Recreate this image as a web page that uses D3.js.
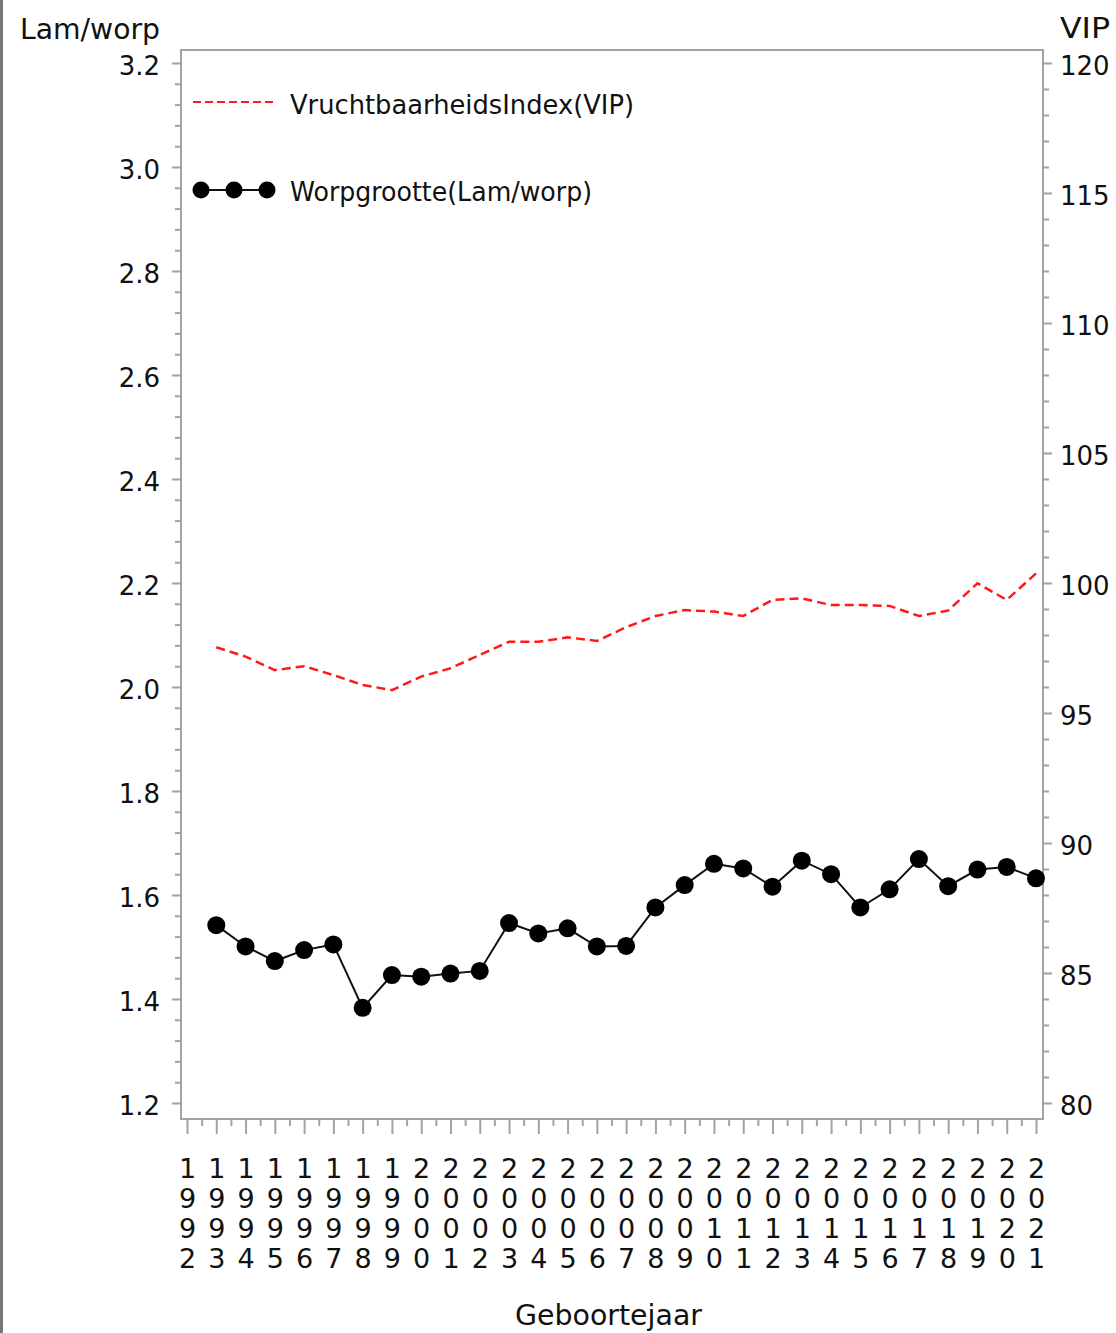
<!DOCTYPE html>
<html>
<head>
<meta charset="utf-8">
<script src="https://cdn.jsdelivr.net/npm/d3@7"></script>
<style>
body { margin: 0; background: #fff; }
#chart { width: 1116px; height: 1333px; }
text { font-family: "DejaVu Sans", sans-serif; fill: #111; }
</style>
</head>
<body>
<div id="chart"></div>
<script>
// tick labels on the x axis (birth years)
var tickYears = [1992, 1993, 1994, 1995, 1996, 1997, 1998, 1999, 2000, 2001,
    2002, 2003, 2004, 2005, 2006, 2007, 2008, 2009, 2010, 2011,
    2012, 2013, 2014, 2015, 2016, 2017, 2018, 2019, 2020, 2021];
// years that have data
var years = [1993, 1994, 1995, 1996, 1997, 1998, 1999, 2000, 2001, 2002,
    2003, 2004, 2005, 2006, 2007, 2008, 2009, 2010, 2011, 2012,
    2013, 2014, 2015, 2016, 2017, 2018, 2019, 2020, 2021];
// lammeren per worp (left axis)
var worpgrootte = [1.542, 1.501, 1.473, 1.494, 1.505, 1.383, 1.446, 1.443, 1.449, 1.454,
    1.546, 1.526, 1.536, 1.501, 1.502, 1.576, 1.619, 1.660, 1.651, 1.616,
    1.666, 1.640, 1.576, 1.611, 1.669, 1.617, 1.649, 1.654, 1.632];
// vruchtbaarheidsindex (right axis)
var vip = [97.53, 97.17, 96.65, 96.80, 96.46, 96.08, 95.88, 96.40, 96.72, 97.23,
    97.74, 97.74, 97.91, 97.77, 98.30, 98.73, 98.96, 98.90, 98.73, 99.35,
    99.41, 99.15, 99.15, 99.12, 98.73, 98.94, 99.99, 99.35, 100.37];
var leftTicks = [1.2, 1.4, 1.6, 1.8, 2.0, 2.2, 2.4, 2.6, 2.8, 3.0, 3.2];
var rightTicks = [80, 85, 90, 95, 100, 105, 110, 115, 120];
var legendLabels = ['VruchtbaarheidsIndex(VIP)', 'Worpgrootte(Lam/worp)'];

var frame = { left: 181, top: 50, right: 1043, bottom: 1119 };
var gray = '#a3a3a3';

var init = function (selector) {
    var svg = d3.select(selector).append('svg')
        .attr('width', 1116)
        .attr('height', 1333);

    var x = d3.scaleLinear().domain([1992, 2021]).range([187, 1036]);
    var yL = d3.scaleLinear().domain([1.2, 3.2]).range([1103, 63]);
    var yR = d3.scaleLinear().domain([80, 120]).range([1103, 63]);

    // page border on the far left
    svg.append('line')
        .attr('x1', 1.5).attr('x2', 1.5)
        .attr('y1', 0).attr('y2', 1333)
        .style('stroke', '#777')
        .style('stroke-width', 3);

    svg.append('rect')
        .attr('x', frame.left)
        .attr('y', frame.top)
        .attr('width', frame.right - frame.left)
        .attr('height', frame.bottom - frame.top)
        .style('fill', 'none')
        .style('stroke', gray)
        .style('stroke-width', 2);

    var styleAxis = function (g) {
        g.select('.domain').remove();
        g.selectAll('.tick line').style('stroke', gray).style('stroke-width', 2);
        g.selectAll('.tick text').style('font-size', '26px').attr('fill', '#111');
    };

    var leftMinor = d3.range(1.2, 3.2001, 0.04).filter(function (v) {
        return Math.abs(v * 5 - Math.round(v * 5)) > 0.01;
    });
    var rightMinor = d3.range(80, 121, 1).filter(function (v) { return v % 5 !== 0; });
    var xMinor = tickYears.slice(0, -1).map(function (d) { return d + 0.5; });

    // left axis
    svg.append('g')
        .attr('transform', 'translate(' + frame.left + ',0)')
        .call(d3.axisLeft(yL).tickValues(leftMinor).tickSize(6).tickFormat(''))
        .call(styleAxis);
    svg.append('g')
        .attr('transform', 'translate(' + frame.left + ',0)')
        .call(d3.axisLeft(yL).tickValues(leftTicks).tickSize(9).tickPadding(12)
            .tickFormat(d3.format('.1f')))
        .call(styleAxis)
        .selectAll('.tick text').attr('dy', '0.44em');

    // right axis
    svg.append('g')
        .attr('transform', 'translate(' + frame.right + ',0)')
        .call(d3.axisRight(yR).tickValues(rightMinor).tickSize(6).tickFormat(''))
        .call(styleAxis);
    svg.append('g')
        .attr('transform', 'translate(' + frame.right + ',0)')
        .call(d3.axisRight(yR).tickValues(rightTicks).tickSize(9).tickPadding(8))
        .call(styleAxis)
        .selectAll('.tick text').attr('dy', '0.44em');

    // bottom axis, year digits stacked vertically
    svg.append('g')
        .attr('transform', 'translate(0,' + frame.bottom + ')')
        .call(d3.axisBottom(x).tickValues(xMinor).tickSize(7).tickFormat(''))
        .call(styleAxis);
    svg.append('g')
        .attr('transform', 'translate(0,' + frame.bottom + ')')
        .call(d3.axisBottom(x).tickValues(tickYears).tickSize(15).tickFormat(function (d) { return d; }))
        .call(styleAxis)
        .selectAll('.tick text')
        .style('font-size', '27px')
        .attr('dy', 0)
        .each(function (d) {
            var t = d3.select(this).text('');
            String(d).split('').forEach(function (c, i) {
                t.append('tspan').attr('x', 0).attr('y', 59 + i * 30).text(c);
            });
        });

    // axis titles
    svg.append('text')
        .attr('x', 20).attr('y', 39)
        .attr('textLength', 140).attr('lengthAdjust', 'spacingAndGlyphs')
        .style('font-size', '28px')
        .text('Lam/worp');
    svg.append('text')
        .attr('x', 1060).attr('y', 38)
        .attr('textLength', 50).attr('lengthAdjust', 'spacingAndGlyphs')
        .style('font-size', '28px')
        .text('VIP');
    svg.append('text')
        .attr('x', 515).attr('y', 1325)
        .attr('textLength', 187).attr('lengthAdjust', 'spacingAndGlyphs')
        .style('font-size', '28px')
        .text('Geboortejaar');

    // VIP dashed line
    var vipLine = d3.line()
        .x(function (d, i) { return x(years[i]); })
        .y(function (d) { return yR(d); });
    svg.append('path')
        .datum(vip)
        .attr('d', vipLine)
        .style('fill', 'none')
        .style('stroke', '#ff1a1a')
        .style('stroke-width', 2.5)
        .style('stroke-dasharray', '9,5');

    // worpgrootte line with markers
    var worpLine = d3.line()
        .x(function (d, i) { return x(years[i]); })
        .y(function (d) { return yL(d); });
    svg.append('path')
        .datum(worpgrootte)
        .attr('d', worpLine)
        .style('fill', 'none')
        .style('stroke', '#111')
        .style('stroke-width', 2);
    svg.selectAll('.dot')
        .data(worpgrootte)
        .enter()
        .append('circle')
        .attr('class', 'dot')
        .attr('cx', function (d, i) { return x(years[i]); })
        .attr('cy', function (d) { return yL(d); })
        .attr('r', 9)
        .style('fill', '#000');

    // legend
    var legend = svg.append('g');
    legend.append('line')
        .attr('x1', 193).attr('x2', 277)
        .attr('y1', 102).attr('y2', 102)
        .style('stroke', '#ff1a1a')
        .style('stroke-width', 2)
        .style('stroke-dasharray', '8,4');
    legend.append('line')
        .attr('x1', 201).attr('x2', 267)
        .attr('y1', 190).attr('y2', 190)
        .style('stroke', '#111')
        .style('stroke-width', 2);
    legend.selectAll('.legend-dot')
        .data([201, 234, 267])
        .enter()
        .append('circle')
        .attr('class', 'legend-dot')
        .attr('cx', function (d) { return d; })
        .attr('cy', 190)
        .attr('r', 8.5)
        .style('fill', '#000');
    legend.selectAll('.legend-text')
        .data(legendLabels)
        .enter()
        .append('text')
        .attr('class', 'legend-text')
        .attr('x', 290)
        .attr('y', function (d, i) { return i === 0 ? 114 : 201; })
        .attr('textLength', function (d, i) { return i === 0 ? 344 : 302; })
        .attr('lengthAdjust', 'spacingAndGlyphs')
        .style('font-size', '26px')
        .text(function (d) { return d; });
};
document.addEventListener('DOMContentLoaded', function () { return init('#chart'); }, false);
</script>
</body>
</html>
